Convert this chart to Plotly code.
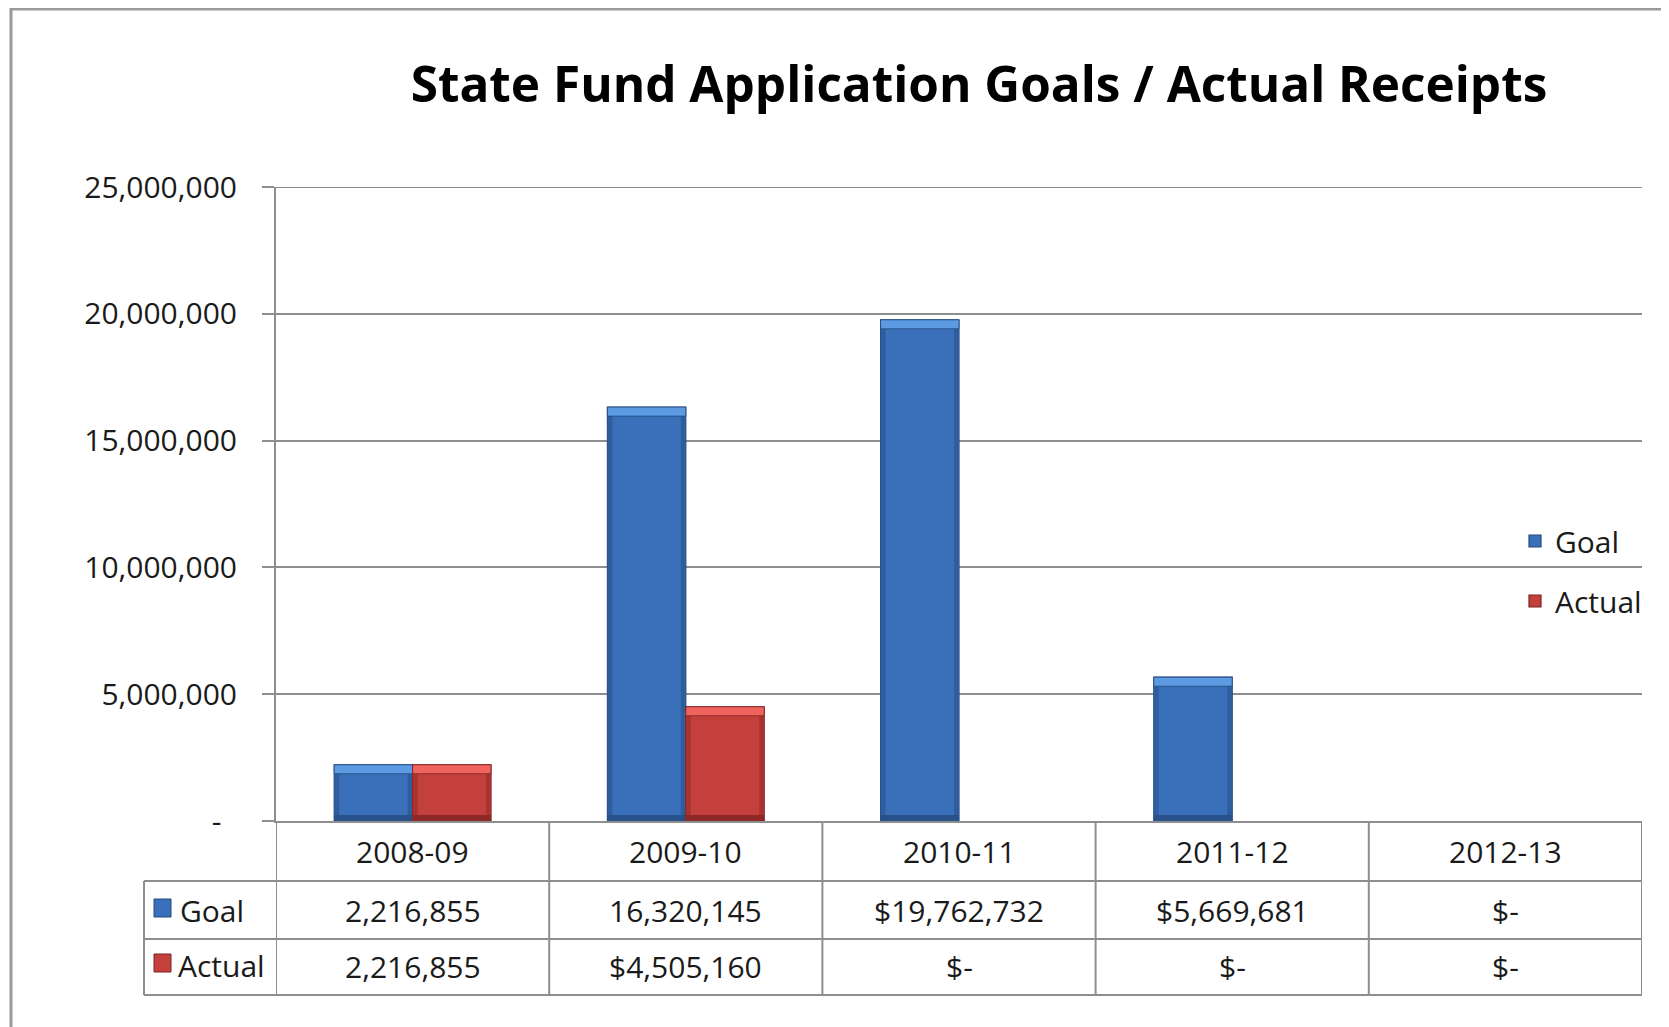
import plotly.graph_objects as go

# ---------------- data ----------------
categories = ["2008-09", "2009-10", "2010-11", "2011-12", "2012-13"]
goal = [2216855, 16320145, 19762732, 5669681, 0]
actual = [2216855, 4505160, 0, 0, 0]
goal_labels = ["2,216,855", "16,320,145", "$19,762,732", "$5,669,681", "$-"]
actual_labels = ["2,216,855", "$4,505,160", "$-", "$-", "$-"]
ytick_vals = [0, 5000000, 10000000, 15000000, 20000000, 25000000]
ytick_text = ["-\u00a0\u00a0", "5,000,000", "10,000,000", "15,000,000", "20,000,000", "25,000,000"]
title = "State Fund Application Goals / Actual Receipts"

# ---------------- layout geometry (screen pixels) ----------------
W, H = 1669, 1027
OFF = 8  # page body margin
L, R, T, B = 276, 1642, 187, 821
PW, PH = R - L, B - T
YMAX = 25000000
BARGAP = 0.426

def px(x):
    return (x - L) / PW

def py(y):
    return (B - y) / PH

FONT = "Open Sans"
TXT = "#1a1a1a"
GRID = "#8E8E8E"
FS = 30

STYLE = {
    "Goal": dict(body="#3A70B9", top="#5C9AE2", edge="#2F5E9E", bottom="#28518A", line="#24497E"),
    "Actual": dict(body="#C4403C", top="#F0635E", edge="#A83330", bottom="#8E2826", line="#7A2220"),
}

YPP = YMAX / PH            # data units per pixel
bevel = 9 * YPP
bottom_h = 6 * YPP
GW = (1 - BARGAP) / 2      # width of one bar in category units
edge_w = 5 / (PW / len(categories))

def nz(vals):
    return [v if v > 0 else None for v in vals]

fig = go.Figure()

def add_series(name, vals, group, offset):
    st = STYLE[name]
    fig.add_bar(x=categories, y=nz(vals), name=name, offsetgroup=group, legendgroup=name,
                marker=dict(color=st["body"], line=dict(color=st["line"], width=1.2)))
    inner = [v - bevel if v > 0 else None for v in vals]
    # darker side edges
    for off in (offset, offset + GW - edge_w):
        fig.add_bar(x=categories, y=inner, base=[0 if v else None for v in inner], offsetgroup=group,
                    offset=off, width=edge_w, showlegend=False, hoverinfo="skip",
                    marker=dict(color=st["edge"], line=dict(width=0)))
    # darker bottom
    fig.add_bar(x=categories, y=[bottom_h if v > 0 else None for v in vals],
                base=[0 if v > 0 else None for v in vals], offsetgroup=group, offset=offset, width=GW,
                showlegend=False, hoverinfo="skip", marker=dict(color=st["bottom"], line=dict(width=0)))
    # lighter top bevel
    fig.add_bar(x=categories, y=[bevel if v > 0 else None for v in vals], base=inner, offsetgroup=group,
                offset=offset, width=GW, showlegend=False, hoverinfo="skip",
                marker=dict(color=st["top"], line=dict(color=st["line"], width=0.8)))

add_series("Goal", goal, "1goal", -GW)
add_series("Actual", actual, "2actual", 0)

shapes = []
line = dict(color=GRID, width=2)
# top gridline
shapes.append(dict(type="line", xref="paper", yref="y", x0=0, x1=1, y0=YMAX, y1=YMAX,
                   line=dict(color=GRID, width=2), layer="below"))
# table rows / columns
row_y = [881, 939, 995]
for yy in row_y:
    shapes.append(dict(type="line", xref="paper", yref="paper", x0=px(144), x1=1, y0=py(yy), y1=py(yy), line=line))
for i in range(len(categories) + 1):
    shapes.append(dict(type="line", xref="x", yref="paper", x0=i - 0.5, x1=i - 0.5, y0=py(995), y1=0, line=line))
shapes.append(dict(type="line", xref="paper", yref="paper", x0=px(144), x1=px(144), y0=py(995), y1=py(881), line=line))
# table legend keys
shapes.append(dict(type="rect", xref="paper", yref="paper", x0=px(154), x1=px(171), y0=py(917), y1=py(899),
                   fillcolor=STYLE["Goal"]["body"], line=dict(color=STYLE["Goal"]["line"], width=1)))
shapes.append(dict(type="rect", xref="paper", yref="paper", x0=px(154), x1=px(171), y0=py(972), y1=py(954),
                   fillcolor=STYLE["Actual"]["body"], line=dict(color=STYLE["Actual"]["line"], width=1)))
# outer chart border
shapes.append(dict(type="line", xref="paper", yref="paper", x0=px(11), x1=px(11), y0=py(1060), y1=py(6),
                   line=dict(color="#9A9A9A", width=3)))
shapes.append(dict(type="line", xref="paper", yref="paper", x0=px(11), x1=px(1700), y0=py(9), y1=py(9),
                   line=dict(color="#9A9A9A", width=3)))

annotations = []
fnt = dict(family=FONT, size=FS, color=TXT)
for c, gl, al in zip(categories, goal_labels, actual_labels):
    annotations.append(dict(x=c, xref="x", y=py(851), yref="paper", text=c, showarrow=False, font=fnt,
                            xanchor="center", yanchor="middle"))
    annotations.append(dict(x=c, xref="x", y=py(910), yref="paper", text=gl, showarrow=False, font=fnt,
                            xanchor="center", yanchor="middle"))
    annotations.append(dict(x=c, xref="x", y=py(967), yref="paper", text=al, showarrow=False, font=fnt,
                            xanchor="center", yanchor="middle"))
annotations.append(dict(x=px(178), xref="paper", y=py(910), yref="paper", text="Goal", showarrow=False,
                        font=fnt, xanchor="left", yanchor="middle"))
annotations.append(dict(x=px(176), xref="paper", y=py(965), yref="paper", text="Actual", showarrow=False,
                        font=fnt, xanchor="left", yanchor="middle"))

fig.update_layout(
    width=W, height=H,
    margin=dict(l=L - OFF, r=W - (R - OFF), t=T - OFF, b=H - (B - OFF), autoexpand=False),
    paper_bgcolor="white", plot_bgcolor="white",
    title=dict(text=title, x=(979 - OFF) / W, xref="container", xanchor="center",
               y=1 - (85 - OFF) / H, yanchor="middle",
               font=dict(family=FONT, size=49.5, color="#000000", weight="bold")),
    barmode="group", bargap=BARGAP, bargroupgap=0,
    showlegend=True,
    legend=dict(x=px(1515), xanchor="left", y=py(571), yanchor="middle", bgcolor="rgba(0,0,0,0)",
                font=dict(family=FONT, size=FS, color=TXT), tracegroupgap=18,
                itemwidth=30),
    shapes=shapes, annotations=annotations,
    font=dict(family=FONT, color=TXT),
)
fig.update_xaxes(type="category", range=[-0.5, len(categories) - 0.5], showticklabels=False, ticks="",
                 showline=True, linecolor=GRID, linewidth=2, showgrid=False, zeroline=False, fixedrange=True)
fig.update_yaxes(range=[0, YMAX], tickvals=ytick_vals, ticktext=ytick_text, showline=True, linecolor=GRID,
                 linewidth=2, ticks="outside", ticklen=12, tickwidth=2, tickcolor=GRID, showgrid=True,
                 gridcolor=GRID, gridwidth=1.5, zeroline=False, ticklabelstandoff=19,
                 tickfont=dict(family=FONT, size=FS, color=TXT), fixedrange=True)

fig.write_html("out.html")
